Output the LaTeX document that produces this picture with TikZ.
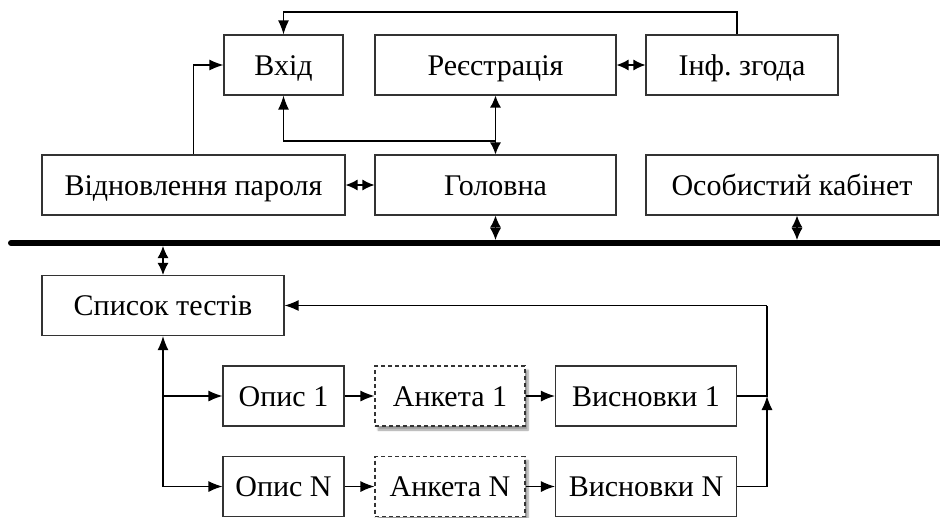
\documentclass[tikz,border=0pt]{standalone}
\usepackage{fontspec}
\setmainfont{Liberation Serif}
\usetikzlibrary{arrows.meta,shadows.blur}
\frenchspacing
\begin{document}
\begin{tikzpicture}[x=1pt,y=-1pt,
 box/.style={draw=black!80, line width=1.1pt, minimum height=60pt, inner sep=0pt, text height=20pt, text depth=0pt, font=\fontsize{30}{36}\selectfont, fill=white},
 dbox/.style={box, dash pattern=on 4pt off 3pt, blur shadow={shadow xshift=3pt, shadow yshift=-4pt, shadow blur steps=6, shadow opacity=40}},
 conn/.style={line width=1.3pt, -{Latex[length=14pt,width=11pt]}},
 dconn/.style={line width=1.3pt, {Latex[length=12pt,width=11pt]}-{Latex[length=12pt,width=11pt]}},
 plain/.style={line width=1.3pt}]
\useasboundingbox (0,0) rectangle (940,517);
% top row
\node[box, minimum width=119pt] (vhid) at (283.5,65) {Вхід};
\node[box, minimum width=241pt] (reg) at (495.5,65) {Реєстрація};
\node[box, minimum width=192pt] (inf) at (742,65) {Інф.\ згода};
% second row
\node[box, minimum width=303pt] (vidn) at (193.5,185) {Відновлення пароля};
\node[box, minimum width=241pt] (gol) at (495.5,185) {Головна};
\node[box, minimum width=292pt] (kab) at (792,185) {Особистий кабінет};
% lower part
\node[box, minimum width=242pt] (spys) at (163,305.5) {Список тестів};
\node[box, minimum width=121pt] (op1) at (283.5,396) {Опис 1};
\node[dbox, minimum width=150pt] (an1) at (450,396) {Анкета 1};
\node[box, minimum width=181pt] (vys1) at (646,396) {Висновки 1};
\node[box, minimum width=121pt] (opN) at (283.5,486.5) {Опис N};
\node[dbox, minimum width=150pt] (anN) at (450,486.5) {Анкета N};
\node[box, minimum width=181pt] (vysN) at (646,486.5) {Висновки N};
% bus
\coordinate (busL) at (11,243);
\coordinate (busR) at (940,243);
\draw[line width=6pt, line cap=round] (busL) -- (busR);
% top connectors
\coordinate (t1) at (737,12);
\coordinate (t2) at (283.5,12);
\draw[conn] (inf.north -| t1) -- (t1) -- (t2) -- (vhid.north);
\draw[conn] (vidn.north) |- (vhid.west);
\coordinate (h1) at (283.5,141);
\coordinate (h2) at (495.5,141);
\draw[conn] (h2) -- (h1) -- (vhid.south);
\draw[dconn] (reg.south) -- (gol.north);
\draw[dconn] (reg.east) -- (inf.west);
\draw[dconn] (vidn.east) -- (gol.west);
% bus connectors
\coordinate (bg) at (495.5,240);
\coordinate (bk) at (797,240);
\coordinate (bs) at (163,246);
\draw[dconn] (gol.south) -- (bg);
\draw[dconn] (kab.south -| bk) -- (bk);
\draw[dconn] (bs) -- (spys.north);
% lower connectors
\coordinate (l1) at (163,396);
\coordinate (lN) at (163,486.5);
\draw[conn] (lN) -- (spys.south);
\draw[conn] (l1) -- (op1.west);
\draw[conn] (lN) -- (opN.west);
\draw[conn] (op1.east) -- (an1.west);
\draw[conn] (an1.east) -- (vys1.west);
\draw[conn] (opN.east) -- (anN.west);
\draw[conn] (anN.east) -- (vysN.west);
\coordinate (r1) at (767,396);
\coordinate (rN) at (767,486.5);
\coordinate (rT) at (767,305.5);
\draw[plain] (vys1.east) -- (r1) -- (rT);
\draw[conn] (rT) -- (spys.east);
\draw[conn] (vysN.east) -- (rN) -- (r1);
\end{tikzpicture}
\end{document}
